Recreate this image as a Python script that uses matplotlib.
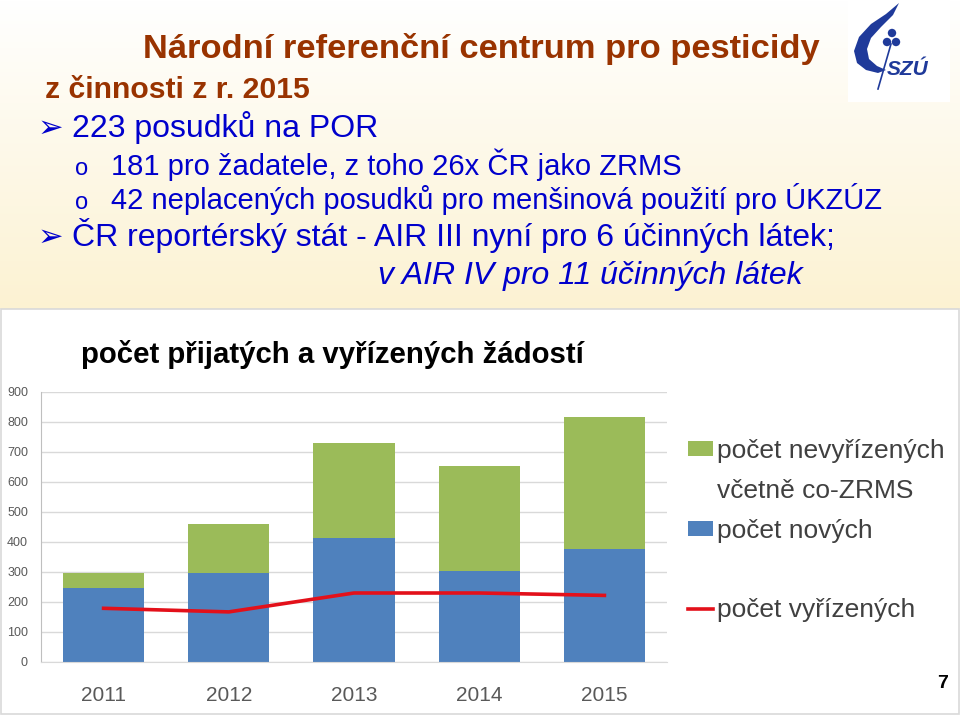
import numpy as np
import matplotlib
matplotlib.use('Agg')
import matplotlib.pyplot as plt
from matplotlib.patches import Patch, Rectangle, Polygon, Circle
from matplotlib.lines import Line2D

plt.rcParams['font.family'] = ['Liberation Sans', 'DejaVu Sans']

years = ['2011', '2012', '2013', '2014', '2015']
new_requests = [247, 298, 412, 303, 376]        # počet nových
unresolved = [49, 163, 319, 350, 442]           # počet nevyřízených včetně co-ZRMS
resolved = [179, 167, 230, 230, 222]            # počet vyřízených
y_ticks = [0, 100, 200, 300, 400, 500, 600, 700, 800, 900]

BLUE = '#4F81BD'
GREEN = '#9BBB59'
RED = '#E3101A'
BROWN = '#993300'
TEXT_BLUE = '#0000CC'
GREY_TEXT = '#595959'

W, H = 960, 715
fig = plt.figure(figsize=(W / 100, H / 100), dpi=100)

# background layer in pixel coordinates
bg = fig.add_axes([0, 0, 1, 1])
bg.set_xlim(0, W)
bg.set_ylim(H, 0)
bg.axis('off')
grad = np.linspace(0, 1, 256).reshape(-1, 1)
top_c = np.array([1.0, 1.0, 1.0])
bot_c = np.array([252, 242, 210]) / 255
img = top_c + grad[..., None] * (bot_c - top_c)
img = np.repeat(img, 2, axis=1)
bg.imshow(img, extent=(0, W, 309, 0), aspect='auto', zorder=0)
bg.add_patch(Rectangle((1, 309), W - 2, 405, facecolor='white', edgecolor='#D9D9D9', lw=1.2, zorder=1))

# logo
bg.add_patch(Rectangle((848, 0), 102, 102, facecolor='white', edgecolor='none', zorder=1))
logo_c = '#1F3A9A'
flame = [(899, 3), (886, 14), (871, 24), (859, 37), (854, 51), (857, 63), (866, 70),
         (878, 73), (886, 70), (877, 66), (869, 59), (867, 49), (871, 38), (881, 27), (893, 15)]
bg.add_patch(Polygon(flame, closed=True, facecolor=logo_c, edgecolor='none', zorder=2))
for cx, cy in [(892, 33), (887, 42), (896, 42)]:
    bg.add_patch(Circle((cx, cy), 4.2, facecolor=logo_c, edgecolor='none', zorder=2))
bg.plot([891, 878], [44, 89], color=logo_c, lw=1.2, zorder=2)
bg.text(887, 75, 'SZÚ', color=logo_c, fontsize=15, fontweight='bold', style='italic', zorder=3)

# slide texts
bg.text(481, 58, 'Národní referenční centrum pro pesticidy', color=BROWN, fontsize=24.8,
        fontweight='bold', ha='center', va='baseline', zorder=3)
bg.text(45, 98, 'z činnosti z r. 2015', color=BROWN, fontsize=21.7, fontweight='bold',
        va='baseline', zorder=3)
bg.text(38, 137, '➢', color=TEXT_BLUE, fontsize=22, family='DejaVu Sans', va='baseline', zorder=3)
bg.text(72, 137, '223 posudků na POR', color=TEXT_BLUE, fontsize=23, va='baseline', zorder=3)
bg.text(75, 175, 'o', color=TEXT_BLUE, fontsize=17, va='baseline', zorder=3)
bg.text(111, 175, '181 pro žadatele, z toho 26x ČR jako ZRMS', color=TEXT_BLUE, fontsize=21,
        va='baseline', zorder=3)
bg.text(75, 209, 'o', color=TEXT_BLUE, fontsize=17, va='baseline', zorder=3)
bg.text(111, 209, '42 neplacených posudků pro menšinová použití pro ÚKZÚZ', color=TEXT_BLUE,
        fontsize=21, va='baseline', zorder=3)
bg.text(38, 246, '➢', color=TEXT_BLUE, fontsize=22, family='DejaVu Sans', va='baseline', zorder=3)
bg.text(72, 246, 'ČR reportérský stát - AIR III nyní pro 6 účinných látek;', color=TEXT_BLUE,
        fontsize=23, va='baseline', zorder=3)
bg.text(378, 284, 'v AIR IV pro 11 účinných látek', color=TEXT_BLUE, fontsize=23,
        style='italic', va='baseline', zorder=3)

bg.text(81, 363, 'počet přijatých a vyřízených žádostí', color='black', fontsize=21.2,
        fontweight='bold', va='baseline', zorder=3)
bg.text(943, 688, '7', color='black', fontsize=14, fontweight='bold', ha='center', va='baseline', zorder=3)

# chart
ax = fig.add_axes([41 / W, 1 - 662 / H, 626 / W, 270 / H])
ax.set_facecolor('none')
x = np.arange(len(years))
ax.bar(x, new_requests, width=0.65, color=BLUE, zorder=2)
ax.bar(x, unresolved, width=0.65, bottom=new_requests, color=GREEN, zorder=2)
ax.plot(x, resolved, color=RED, lw=2.6, zorder=3)
ax.set_xlim(-0.5, len(years) - 0.5)
ax.set_ylim(0, 900)
ax.set_yticks(y_ticks)
ax.set_yticklabels([str(v) for v in y_ticks], fontsize=9, color=GREY_TEXT)
ax.set_xticks(x)
ax.set_xticklabels(years, fontsize=15, color=GREY_TEXT)
ax.tick_params(axis='both', length=0)
ax.tick_params(axis='y', pad=9.4)
ax.tick_params(axis='x', pad=17)
ax.yaxis.grid(True, color='#D9D9D9', lw=1, zorder=0)
ax.set_axisbelow(True)
for s in ['top', 'right']:
    ax.spines[s].set_visible(False)
ax.spines['left'].set_color('#BFBFBF')
ax.spines['bottom'].set_color('#D9D9D9')

blank = Patch(facecolor='none', edgecolor='none')
handles = [Patch(facecolor=GREEN), blank, Patch(facecolor=BLUE), blank,
           Line2D([0], [0], color=RED, lw=2.6)]
labels = ['počet nevyřízených', 'včetně co-ZRMS', 'počet nových', '', 'počet vyřízených']
leg = fig.legend(handles, labels, loc='upper left', bbox_to_anchor=(688 / W, 1 - 439 / H),
                 frameon=False, fontsize=19, handlelength=0.95, handleheight=0.5,
                 handletextpad=0.15, labelspacing=0.6, borderaxespad=0, borderpad=0)
for t in leg.get_texts():
    t.set_color('#404040')

fig.savefig('out.png', dpi=100)
